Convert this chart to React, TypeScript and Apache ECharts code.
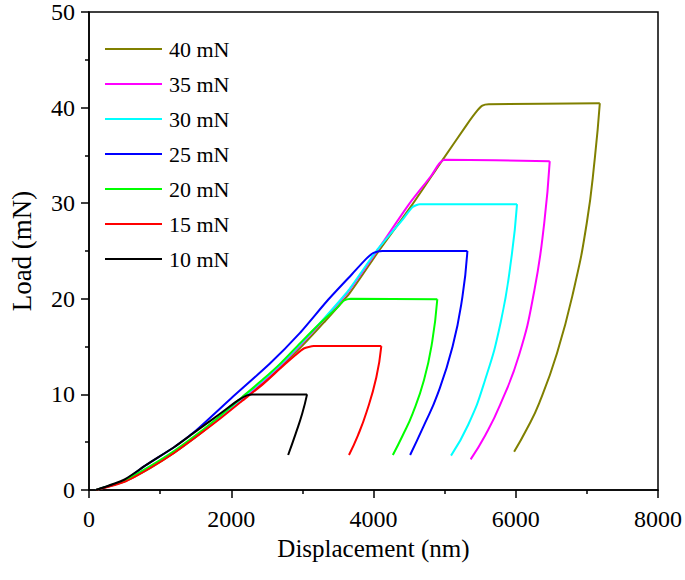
import React, { useEffect, useRef } from "react";
import * as echarts from "echarts";

const seriesNames = ["40 mN", "35 mN", "30 mN", "25 mN", "20 mN", "15 mN", "10 mN"];
const seriesColors = ["#808000", "#FF00FF", "#00FFFF", "#0000FF", "#00FF00", "#FF0000", "#000000"];

// Loading + holding segments
const load40: number[][] = [
  [100, 0], [500, 0.9], [860, 2.3], [1200, 3.9], [1550, 5.8], [1850, 7.6], [2150, 9.4], [2450, 11.2],
  [2700, 12.9], [3000, 15.1], [3300, 17.5], [3665, 20.6], [4055, 24.8], [4540, 29.8], [4950, 34.3],
  [5320, 38.3], [5450, 39.6], [5530, 40.2], [5620, 40.35], [7182, 40.45],
];
const load35: number[][] = [
  [100, 0], [500, 0.95], [860, 2.4], [1200, 4.0], [1550, 5.9], [1850, 7.7], [2150, 9.5], [2450, 11.4],
  [2700, 13.1], [3000, 15.4], [3300, 17.8], [3650, 20.8], [4040, 24.9], [4500, 29.9], [4814, 32.9],
  [4920, 34.1], [5000, 34.55], [6478, 34.4],
];
const load30: number[][] = [
  [100, 0], [500, 0.95], [860, 2.4], [1200, 4.0], [1550, 5.9], [1850, 7.7], [2150, 9.6], [2450, 11.5],
  [2700, 13.2], [3000, 15.5], [3300, 17.9], [3650, 20.9], [4040, 25.0], [4400, 28.2], [4550, 29.6],
  [4650, 29.9], [6018, 29.9],
];
const load25: number[][] = [
  [100, 0], [500, 1.0], [800, 2.6], [1200, 4.5], [1500, 6.2], [2000, 9.6], [2540, 13.2], [2950, 16.3],
  [3350, 19.8], [3700, 22.6], [3900, 24.2], [4000, 24.8], [4124, 25.0], [5320, 25.0],
];
const load20: number[][] = [
  [100, 0], [500, 1.0], [860, 2.5], [1200, 4.1], [1550, 6.0], [1850, 7.8], [2150, 9.7], [2450, 11.6],
  [2700, 13.3], [3000, 15.6], [3300, 17.8], [3480, 19.0], [3580, 19.8], [3680, 20.0], [4897, 19.95],
];
const load15: number[][] = [
  [100, 0], [500, 0.85], [860, 2.3], [1200, 3.9], [1550, 5.8], [1850, 7.5], [2150, 9.3], [2450, 11.1],
  [2700, 12.8], [2900, 14.1], [3020, 14.8], [3160, 15.05], [4110, 15.05],
];
const load10: number[][] = [
  [100, 0], [500, 1.1], [800, 2.6], [1200, 4.5], [1458, 5.9], [1700, 7.2], [1917, 8.4], [2100, 9.4],
  [2220, 9.9], [2300, 10.0], [3066, 10.0],
];

// Unloading segments
const unload40: number[][] = [
  [7182, 40.45], [7113, 34.8], [6998, 27.9], [6814, 20.9], [6580, 14.3], [6330, 9.1], [6150, 6.3], [5977, 4.0],
];
const unload35: number[][] = [
  [6478, 34.4], [6400, 27.9], [6262, 20.9], [6050, 14.2], [5780, 8.9], [5570, 5.7], [5366, 3.2],
];
const unload30: number[][] = [
  [6018, 29.9], [5941, 24.4], [5790, 17.6], [5560, 11.3], [5330, 6.8], [5090, 3.6],
];
const unload25: number[][] = [
  [5320, 25.0], [5250, 20.2], [5112, 15.0], [4900, 10.0], [4700, 6.6], [4515, 3.66],
];
const unload20: number[][] = [
  [4897, 19.95], [4825, 15.5], [4710, 11.5], [4550, 8.0], [4410, 5.7], [4272, 3.66],
];
const unload15: number[][] = [
  [4110, 15.05], [4040, 11.8], [3900, 8.1], [3780, 5.7], [3655, 3.66],
];
const unload10: number[][] = [
  [3066, 10.0], [2998, 8.0], [2906, 5.9], [2800, 3.66],
];

const loadData = [load40, load35, load30, load25, load20, load15, load10];
const unloadData = [unload40, unload35, unload30, unload25, unload20, unload15, unload10];

const FONT = "Liberation Serif";

export default function App() {
  const ref = useRef<HTMLDivElement>(null);
  useEffect(() => {
    if (!ref.current) return;
    document.body.style.margin = "0";
    const chart = echarts.init(ref.current, undefined, { renderer: "svg" });
    const series: any[] = [];
    seriesNames.forEach((name, i) => {
      series.push({
        name,
        type: "line",
        data: loadData[i],
        showSymbol: false,
        symbol: "none",
        smooth: 0.2,
        color: seriesColors[i],
        lineStyle: { color: seriesColors[i], width: 2 },
        z: 2 + i,
      });
      series.push({
        name,
        type: "line",
        data: unloadData[i],
        showSymbol: false,
        symbol: "none",
        smooth: 0.5,
        color: seriesColors[i],
        lineStyle: { color: seriesColors[i], width: 2 },
        z: 2 + i,
      });
    });
    chart.setOption({
      animation: false,
      textStyle: { fontFamily: FONT },
      grid: {
        left: 81, right: 25, top: 11, bottom: 90,
        show: true, borderColor: "#000", borderWidth: 1.5,
      },
      legend: {
        orient: "vertical",
        left: 100,
        top: 33,
        itemWidth: 57,
        itemHeight: 2,
        itemGap: 13,
        icon: "rect",
        data: seriesNames,
        textStyle: { fontFamily: FONT, fontSize: 22, color: "#000", lineHeight: 22, padding: [0, 0, 0, 2] },
      },
      xAxis: {
        type: "value",
        min: 0, max: 8000, interval: 2000,
        name: "Displacement (nm)",
        nameLocation: "middle",
        nameGap: 44,
        nameTextStyle: { fontFamily: FONT, fontSize: 25, color: "#000" },
        axisLine: { show: true, lineStyle: { color: "#000", width: 1.5 } },
        axisTick: { show: true, inside: false, length: 8, lineStyle: { color: "#000", width: 1.5 } },
        minorTick: { show: true, splitNumber: 2, length: 4, lineStyle: { color: "#000", width: 1.5 } },
        axisLabel: { fontFamily: FONT, fontSize: 24, color: "#000", margin: 17, formatter: (v: number) => String(v) },
        splitLine: { show: false },
      },
      yAxis: {
        type: "value",
        min: 0, max: 50, interval: 10,
        name: "Load (mN)",
        nameLocation: "middle",
        nameGap: 54,
        nameTextStyle: { fontFamily: FONT, fontSize: 27, color: "#000" },
        axisLine: { show: true, lineStyle: { color: "#000", width: 1.5 } },
        axisTick: { show: true, inside: false, length: 8, lineStyle: { color: "#000", width: 1.5 } },
        minorTick: { show: true, splitNumber: 2, length: 4, lineStyle: { color: "#000", width: 1.5 } },
        axisLabel: { fontFamily: FONT, fontSize: 24, color: "#000", margin: 14, formatter: (v: number) => String(v) },
        splitLine: { show: false },
      },
      series,
    });
    return () => chart.dispose();
  }, []);
  return <div ref={ref} style={{ width: 685, height: 580 }} />;
}
